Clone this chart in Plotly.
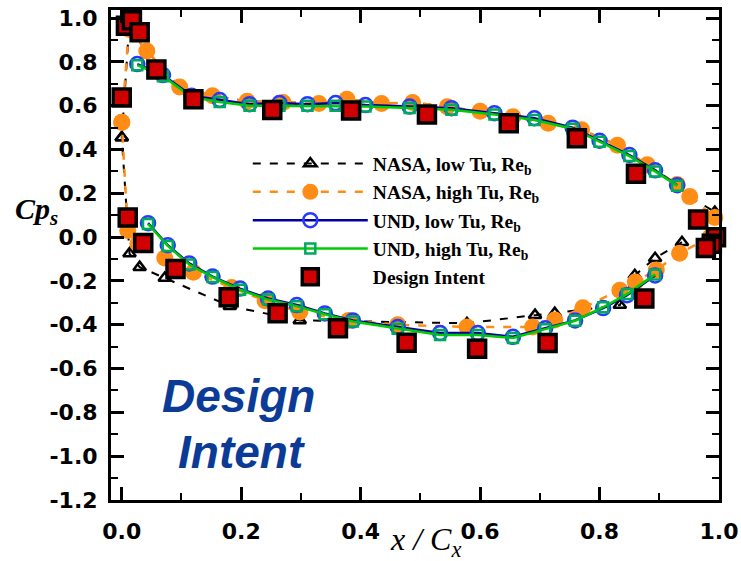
import plotly.graph_objects as go

# ---------------- data ----------------
x_tick_vals = [0.0, 0.2, 0.4, 0.6, 0.8, 1.0]
x_tick_text = ["0.0", "0.2", "0.4", "0.6", "0.8", "1.0"]
y_tick_vals = [1.0, 0.8, 0.6, 0.4, 0.2, 0.0, -0.2, -0.4, -0.6, -0.8, -1.0, -1.2]
y_tick_text = ["1.0", "0.8", "0.6", "0.4", "0.2", "0.0", "-0.2", "-0.4", "-0.6", "-0.8", "-1.0", "-1.2"]

# NASA, low Tu (black triangles) - pressure side TE -> LE -> stagnation
nl_p_x = [0.938, 0.893, 0.859, 0.834, 0.725, 0.692, 0.578, 0.298, 0.181, 0.072, 0.030, 0.013, 0.0]
nl_p_y = [-0.023, -0.096, -0.174, -0.31, -0.347, -0.356, -0.393, -0.38, -0.315, -0.187, -0.137, -0.075, 0.455]
# NASA, low Tu - suction side (stagnation -> LE peak, then LE peak -> TE)
nl_le_x = [0.0, 0.012]
nl_le_y = [0.455, 0.95]
nl_s_x = [0.012, 0.042, 0.097, 0.152, 0.21, 0.27, 0.33, 0.377, 0.435, 0.487, 0.545, 0.60, 0.655, 0.714, 0.77, 0.83, 0.88, 0.93, 0.951, 0.993]
nl_s_y = [0.95, 0.85, 0.685, 0.645, 0.62, 0.615, 0.61, 0.63, 0.61, 0.615, 0.595, 0.575, 0.55, 0.52, 0.49, 0.42, 0.33, 0.24, 0.185, 0.115]

# NASA, high Tu (orange filled circles)
nh_p_x = [0.985, 0.934, 0.895, 0.86, 0.834, 0.772, 0.725, 0.688, 0.578, 0.462, 0.38, 0.298, 0.24, 0.184, 0.12, 0.072, 0.027, 0.010, 0.0]
nh_p_y = [0.0, -0.073, -0.15, -0.205, -0.242, -0.322, -0.378, -0.41, -0.41, -0.40, -0.38, -0.342, -0.29, -0.23, -0.16, -0.095, -0.03, 0.03, 0.525]
nh_le_x = [0.0, 0.012]
nh_le_y = [0.525, 0.95]
nh_s_x = [0.012, 0.042, 0.097, 0.152, 0.21, 0.27, 0.33, 0.377, 0.435, 0.487, 0.545, 0.60, 0.655, 0.714, 0.77, 0.83, 0.88, 0.93, 0.951, 0.993]
nh_s_y = [0.95, 0.85, 0.685, 0.645, 0.62, 0.615, 0.61, 0.63, 0.61, 0.615, 0.595, 0.575, 0.55, 0.52, 0.49, 0.42, 0.33, 0.24, 0.185, 0.09]

# UND, low Tu (blue open circles)
ul_s_x = [0.026, 0.069, 0.117, 0.164, 0.214, 0.264, 0.311, 0.358, 0.408, 0.482, 0.552, 0.624, 0.691, 0.755, 0.80, 0.85, 0.893, 0.93]
ul_s_y = [0.79, 0.74, 0.645, 0.626, 0.607, 0.612, 0.607, 0.612, 0.603, 0.596, 0.589, 0.566, 0.543, 0.50, 0.44, 0.375, 0.305, 0.237]
ul_p_x = [0.044, 0.077, 0.113, 0.152, 0.198, 0.245, 0.293, 0.34, 0.387, 0.462, 0.533, 0.596, 0.655, 0.709, 0.759, 0.806, 0.846, 0.893]
ul_p_y = [0.064, -0.037, -0.12, -0.18, -0.235, -0.28, -0.31, -0.348, -0.38, -0.41, -0.438, -0.438, -0.455, -0.416, -0.38, -0.324, -0.265, -0.175]

# UND, high Tu (green open squares)
uh_s_x = [0.026, 0.069, 0.117, 0.164, 0.214, 0.264, 0.311, 0.358, 0.408, 0.482, 0.552, 0.624, 0.691, 0.755, 0.80, 0.85, 0.893, 0.93]
uh_s_y = [0.785, 0.735, 0.64, 0.617, 0.60, 0.60, 0.60, 0.60, 0.597, 0.59, 0.582, 0.56, 0.535, 0.495, 0.435, 0.37, 0.30, 0.235]
uh_p_x = [0.044, 0.077, 0.113, 0.152, 0.198, 0.245, 0.293, 0.34, 0.387, 0.462, 0.533, 0.596, 0.655, 0.709, 0.759, 0.806, 0.846, 0.893]
uh_p_y = [0.06, -0.04, -0.125, -0.182, -0.24, -0.285, -0.315, -0.352, -0.385, -0.418, -0.447, -0.447, -0.46, -0.42, -0.382, -0.32, -0.26, -0.17]

# Design intent (red squares)
di_x = [0.007, 0.017, 0.030, 0.058, 0.120, 0.252, 0.384, 0.511, 0.648, 0.762, 0.861, 0.965, 0.995, 0.988, 0.978,
        0.0, 0.010, 0.036, 0.090, 0.179, 0.261, 0.362, 0.477, 0.595, 0.713, 0.875]
di_y = [0.965, 0.99, 0.935, 0.765, 0.63, 0.58, 0.578, 0.56, 0.52, 0.452, 0.29, 0.08, 0.0, -0.03, -0.05,
        0.637, 0.09, -0.027, -0.145, -0.274, -0.347, -0.416, -0.482, -0.51, -0.483, -0.28]

legend_names = ["NASA, low Tu, Re<sub>b</sub>", "NASA, high Tu, Re<sub>b</sub>",
                "UND, low Tu, Re<sub>b</sub>", "UND, high Tu, Re<sub>b</sub>", "Design Intent"]


def join(*segs):
    out = []
    for i, s in enumerate(segs):
        if i:
            out.append(None)
        out.extend(s)
    return out


fig = go.Figure()

fig.add_trace(go.Scatter(
    x=join(nl_p_x, nl_le_x, nl_s_x), y=join(nl_p_y, nl_le_y, nl_s_y),
    mode="lines+markers", name=legend_names[0], cliponaxis=False,
    line=dict(color="black", width=2, dash="8px,9px"),
    marker=dict(symbol="triangle-up-open", size=11, color="black", line=dict(width=2.5, color="black"))))

fig.add_trace(go.Scatter(
    x=join(nh_p_x, nh_le_x, nh_s_x), y=join(nh_p_y, nh_le_y, nh_s_y),
    mode="lines+markers", name=legend_names[1], cliponaxis=False,
    line=dict(color="#ff8c14", width=2.5, dash="8px,9px"),
    marker=dict(symbol="circle", size=17, color="#ff8c14", line=dict(width=0))))

fig.add_trace(go.Scatter(
    x=join(ul_s_x, ul_p_x), y=join(ul_s_y, ul_p_y),
    mode="lines+markers", name=legend_names[2], cliponaxis=False,
    line=dict(color="#0000a0", width=2.5),
    marker=dict(symbol="circle-open", size=14, color="#2838ff", line=dict(width=2.5, color="#2838ff"))))

fig.add_trace(go.Scatter(
    x=join(uh_s_x, uh_p_x), y=join(uh_s_y, uh_p_y),
    mode="lines+markers", name=legend_names[3], cliponaxis=False,
    line=dict(color="#00cc00", width=2.5),
    marker=dict(symbol="square-open", size=10, color="#00a860", line=dict(width=2.5, color="#00a860"))))

fig.add_trace(go.Scatter(
    x=di_x, y=di_y, mode="markers", name=legend_names[4], cliponaxis=False,
    marker=dict(symbol="square", size=17, color="#d00000", line=dict(width=3.5, color="black"))))

axis_common = dict(
    showline=True, linewidth=3, linecolor="black", mirror="allticks",
    ticks="inside", ticklen=13, tickwidth=2.5, tickcolor="black",
    showgrid=False, zeroline=False, tickmode="array", automargin=False,
    tickfont=dict(family="DejaVu Sans", size=22, color="black", weight="bold"),
    minor=dict(ticks="inside", ticklen=7, tickwidth=2, tickcolor="black", dtick=0.1, tick0=0, showgrid=False),
)

fig.update_xaxes(range=[-0.018, 1.0], tickvals=x_tick_vals, ticktext=x_tick_text,
                 ticklabelstandoff=10, **axis_common)
fig.update_yaxes(range=[-1.2, 1.037], tickvals=y_tick_vals, ticktext=y_tick_text,
                 ticklabelstandoff=6, **axis_common)

fig.update_layout(
    width=741, height=561,
    margin=dict(l=111, r=22, t=10, b=61),
    plot_bgcolor="white", paper_bgcolor="white",
    legend=dict(x=0.225, y=0.726, xanchor="left", yanchor="top",
                bgcolor="rgba(0,0,0,0)", itemwidth=115, tracegroupgap=0,
                font=dict(family="Liberation Serif", size=19.5, color="black", weight="bold")),
    annotations=[
        dict(text="<i>Cp<sub>s</sub></i>", xref="paper", yref="paper", x=-0.123, y=0.59,
             showarrow=False, xanchor="center", yanchor="middle",
             font=dict(family="Liberation Serif", size=30, color="black", weight="bold")),
        dict(text="<i>x / C<sub>x</sub></i>", xref="paper", yref="paper", x=0.517, y=-0.085,
             showarrow=False, xanchor="center", yanchor="middle",
             font=dict(family="Liberation Serif", size=32, color="black")),
        dict(text="<i>Design</i>", xref="paper", yref="paper", x=0.209, y=0.212,
             showarrow=False, xanchor="center", yanchor="middle",
             font=dict(family="Liberation Sans", size=46, color="#0b3b96", weight="bold")),
        dict(text="<i>Intent</i>", xref="paper", yref="paper", x=0.214, y=0.097,
             showarrow=False, xanchor="center", yanchor="middle",
             font=dict(family="Liberation Sans", size=46, color="#0b3b96", weight="bold")),
    ],
)

fig.write_html("out.html")
